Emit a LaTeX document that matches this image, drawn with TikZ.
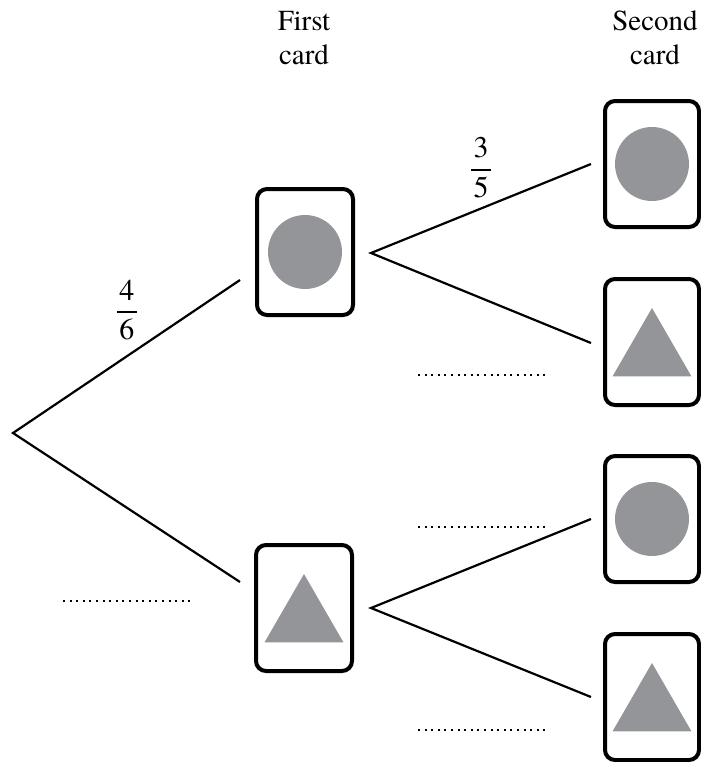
\documentclass[tikz,border=0pt]{standalone}
\usepackage{amsmath}
\usepackage{fontspec}
\setmainfont{TeX Gyre Termes}
\usetikzlibrary{shapes.geometric}
\usetikzlibrary{positioning}
\definecolor{CardGrey}{HTML}{939598}

\tikzset{
  card/.style={draw, line width=2pt, rounded corners=5pt, minimum width=48pt, minimum height=63pt, inner sep=0pt},
  disc/.style={circle, fill=CardGrey, minimum size=37pt, inner sep=0pt},
  tri/.style={regular polygon, regular polygon sides=3, fill=CardGrey, minimum size=45.6pt, inner sep=0pt},
  blank/.style={line width=1.1pt, dash pattern=on 1pt off 2.3pt},
  prob/.style={font=\fontsize{15}{18}\selectfont},
  head/.style={align=center, anchor=north, inner sep=0pt, font=\fontsize{14.5}{17}\selectfont},
}
\newcommand{\prb}[2]{$\genfrac{}{}{1pt}{0}{\mbox{\hspace{1.2pt}#1\hspace{1.2pt}}}{\mbox{#2}}$}

\begin{document}
\begin{tikzpicture}[x=0.5pt, y=-0.5pt, line width=1.1pt]
    \useasboundingbox (0,0) rectangle (701,762);

    % headings
    \node[head] (first) at (304,10) {First\\card};
    \node[head] (second) at (655,10) {Second\\card};

    % first card
    \node[card] (fc) at (305,252) {};
    \node[disc] (fcd) at (fc) {};
    \node[card] (ft) at (304,608) {};
    \node[tri] (ftt) at ([yshift=-5.8pt]ft.center) {};

    % second card
    \node[card, minimum width=47pt] (cc) at (652,164) {};
    \node[disc] (ccd) at (cc) {};
    \node[card, minimum width=47pt] (ct) at (652,342) {};
    \node[tri] (ctt) at ([yshift=-5.8pt]ct.center) {};
    \node[card, minimum width=47pt] (tc) at (652,519) {};
    \node[disc] (tcd) at (tc) {};
    \node[card, minimum width=47pt] (tt) at (652,697) {};
    \node[tri] (ttt) at ([yshift=-5.8pt]tt.center) {};

    % branches
    \coordinate (root) at (13,433);
    \coordinate (fcin) at (240,280);
    \coordinate (ftin) at (240,582);
    \coordinate (fcout) at (371,253);
    \coordinate (ftout) at (371,608);
    \coordinate (ccin) at (591,164);
    \coordinate (ctin) at (591,343);
    \coordinate (tcin) at (591,519);
    \coordinate (ttin) at (591,697);
    \draw (fcin) -- (root) -- (ftin);
    \draw (ccin) -- (fcout) -- (ctin);
    \draw (tcin) -- (ftout) -- (ttin);

    % probabilities
    \node[prob] (p46) at (127,310) {\prb{4}{6}};
    \node[prob] (p35) at (481,168) {\prb{3}{5}};

    % blanks
    \draw[blank] (63,601) -- (190,601);
    \draw[blank] (418,375) -- (545,375);
    \draw[blank] (418,527) -- (545,527);
    \draw[blank] (418,730) -- (545,730);
\end{tikzpicture}
\end{document}
